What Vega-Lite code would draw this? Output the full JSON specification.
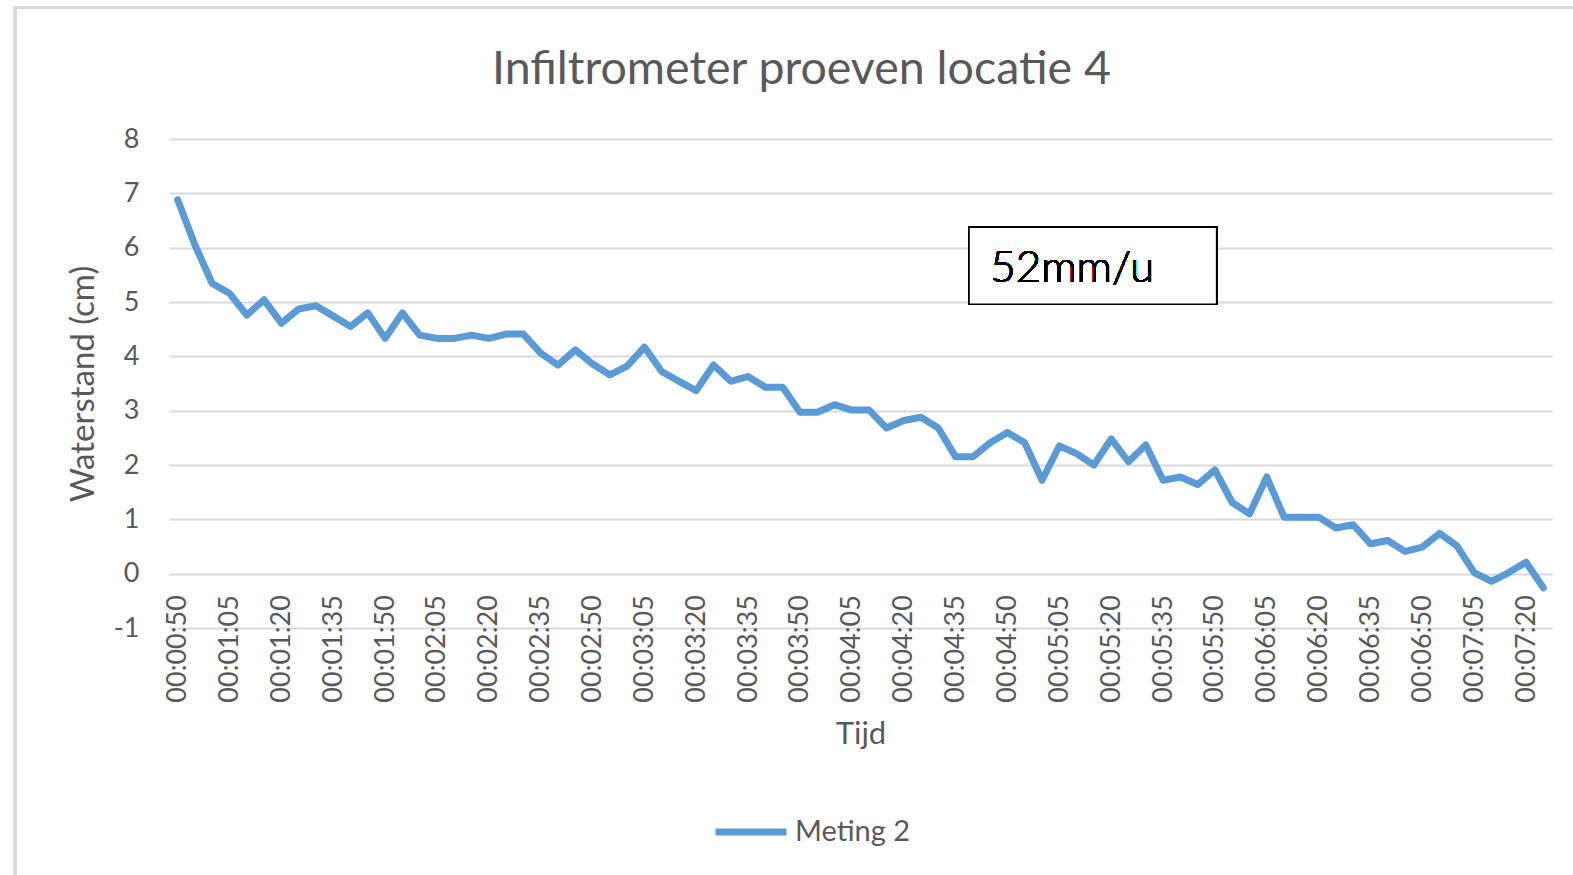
{
  "$schema": "https://vega.github.io/schema/vega-lite/v6.json",
  "autosize": "none",
  "width": 1383,
  "height": 489,
  "padding": {"left": 169, "top": 139, "right": 21, "bottom": 247},
  "background": "white",
  "config": {
    "font": "Lato",
    "view": {"stroke": null},
    "axis": {"labelColor": "#595959", "titleColor": "#595959", "titleFontWeight": "normal", "labelFont": "Lato", "titleFont": "Lato"}
  },
  "title": {
    "text": "Infiltrometer proeven locatie 4",
    "fontSize": 46.5,
    "font": "Lato",
    "fontWeight": "normal",
    "color": "#595959",
    "anchor": "middle",
    "frame": "group",
    "baseline": "alphabetic",
    "dx": -59,
    "dy": 124,
    "offset": 0
  },
  "data": {
    "values": [
      {"seconden": 50, "waterstand": 6.88, "reeks": "Meting 2"},
      {"seconden": 55, "waterstand": 6.05, "reeks": "Meting 2"},
      {"seconden": 60, "waterstand": 5.34, "reeks": "Meting 2"},
      {"seconden": 65, "waterstand": 5.16, "reeks": "Meting 2"},
      {"seconden": 70, "waterstand": 4.76, "reeks": "Meting 2"},
      {"seconden": 75, "waterstand": 5.04, "reeks": "Meting 2"},
      {"seconden": 80, "waterstand": 4.61, "reeks": "Meting 2"},
      {"seconden": 85, "waterstand": 4.87, "reeks": "Meting 2"},
      {"seconden": 90, "waterstand": 4.93, "reeks": "Meting 2"},
      {"seconden": 95, "waterstand": 4.74, "reeks": "Meting 2"},
      {"seconden": 100, "waterstand": 4.55, "reeks": "Meting 2"},
      {"seconden": 105, "waterstand": 4.80, "reeks": "Meting 2"},
      {"seconden": 110, "waterstand": 4.33, "reeks": "Meting 2"},
      {"seconden": 115, "waterstand": 4.80, "reeks": "Meting 2"},
      {"seconden": 120, "waterstand": 4.39, "reeks": "Meting 2"},
      {"seconden": 125, "waterstand": 4.33, "reeks": "Meting 2"},
      {"seconden": 130, "waterstand": 4.33, "reeks": "Meting 2"},
      {"seconden": 135, "waterstand": 4.39, "reeks": "Meting 2"},
      {"seconden": 140, "waterstand": 4.33, "reeks": "Meting 2"},
      {"seconden": 145, "waterstand": 4.41, "reeks": "Meting 2"},
      {"seconden": 150, "waterstand": 4.41, "reeks": "Meting 2"},
      {"seconden": 155, "waterstand": 4.06, "reeks": "Meting 2"},
      {"seconden": 160, "waterstand": 3.84, "reeks": "Meting 2"},
      {"seconden": 165, "waterstand": 4.12, "reeks": "Meting 2"},
      {"seconden": 170, "waterstand": 3.86, "reeks": "Meting 2"},
      {"seconden": 175, "waterstand": 3.66, "reeks": "Meting 2"},
      {"seconden": 180, "waterstand": 3.82, "reeks": "Meting 2"},
      {"seconden": 185, "waterstand": 4.17, "reeks": "Meting 2"},
      {"seconden": 190, "waterstand": 3.72, "reeks": "Meting 2"},
      {"seconden": 195, "waterstand": 3.54, "reeks": "Meting 2"},
      {"seconden": 200, "waterstand": 3.37, "reeks": "Meting 2"},
      {"seconden": 205, "waterstand": 3.84, "reeks": "Meting 2"},
      {"seconden": 210, "waterstand": 3.54, "reeks": "Meting 2"},
      {"seconden": 215, "waterstand": 3.63, "reeks": "Meting 2"},
      {"seconden": 220, "waterstand": 3.43, "reeks": "Meting 2"},
      {"seconden": 225, "waterstand": 3.43, "reeks": "Meting 2"},
      {"seconden": 230, "waterstand": 2.97, "reeks": "Meting 2"},
      {"seconden": 235, "waterstand": 2.97, "reeks": "Meting 2"},
      {"seconden": 240, "waterstand": 3.11, "reeks": "Meting 2"},
      {"seconden": 245, "waterstand": 3.01, "reeks": "Meting 2"},
      {"seconden": 250, "waterstand": 3.01, "reeks": "Meting 2"},
      {"seconden": 255, "waterstand": 2.68, "reeks": "Meting 2"},
      {"seconden": 260, "waterstand": 2.82, "reeks": "Meting 2"},
      {"seconden": 265, "waterstand": 2.88, "reeks": "Meting 2"},
      {"seconden": 270, "waterstand": 2.68, "reeks": "Meting 2"},
      {"seconden": 275, "waterstand": 2.15, "reeks": "Meting 2"},
      {"seconden": 280, "waterstand": 2.15, "reeks": "Meting 2"},
      {"seconden": 285, "waterstand": 2.41, "reeks": "Meting 2"},
      {"seconden": 290, "waterstand": 2.60, "reeks": "Meting 2"},
      {"seconden": 295, "waterstand": 2.41, "reeks": "Meting 2"},
      {"seconden": 300, "waterstand": 1.72, "reeks": "Meting 2"},
      {"seconden": 305, "waterstand": 2.35, "reeks": "Meting 2"},
      {"seconden": 310, "waterstand": 2.21, "reeks": "Meting 2"},
      {"seconden": 315, "waterstand": 2.00, "reeks": "Meting 2"},
      {"seconden": 320, "waterstand": 2.48, "reeks": "Meting 2"},
      {"seconden": 325, "waterstand": 2.06, "reeks": "Meting 2"},
      {"seconden": 330, "waterstand": 2.37, "reeks": "Meting 2"},
      {"seconden": 335, "waterstand": 1.72, "reeks": "Meting 2"},
      {"seconden": 340, "waterstand": 1.78, "reeks": "Meting 2"},
      {"seconden": 345, "waterstand": 1.64, "reeks": "Meting 2"},
      {"seconden": 350, "waterstand": 1.91, "reeks": "Meting 2"},
      {"seconden": 355, "waterstand": 1.31, "reeks": "Meting 2"},
      {"seconden": 360, "waterstand": 1.10, "reeks": "Meting 2"},
      {"seconden": 365, "waterstand": 1.78, "reeks": "Meting 2"},
      {"seconden": 370, "waterstand": 1.04, "reeks": "Meting 2"},
      {"seconden": 375, "waterstand": 1.04, "reeks": "Meting 2"},
      {"seconden": 380, "waterstand": 1.04, "reeks": "Meting 2"},
      {"seconden": 385, "waterstand": 0.84, "reeks": "Meting 2"},
      {"seconden": 390, "waterstand": 0.90, "reeks": "Meting 2"},
      {"seconden": 395, "waterstand": 0.55, "reeks": "Meting 2"},
      {"seconden": 400, "waterstand": 0.61, "reeks": "Meting 2"},
      {"seconden": 405, "waterstand": 0.41, "reeks": "Meting 2"},
      {"seconden": 410, "waterstand": 0.49, "reeks": "Meting 2"},
      {"seconden": 415, "waterstand": 0.74, "reeks": "Meting 2"},
      {"seconden": 420, "waterstand": 0.51, "reeks": "Meting 2"},
      {"seconden": 425, "waterstand": 0.02, "reeks": "Meting 2"},
      {"seconden": 430, "waterstand": -0.14, "reeks": "Meting 2"},
      {"seconden": 435, "waterstand": 0.02, "reeks": "Meting 2"},
      {"seconden": 440, "waterstand": 0.21, "reeks": "Meting 2"},
      {"seconden": 445, "waterstand": -0.26, "reeks": "Meting 2"}
    ]
  },
  "layer": [
    {
      "mark": {"type": "rect", "fillOpacity": 0, "stroke": "#d9d9d9", "strokeWidth": 3},
      "encoding": {
        "x": {"datum": 2.96, "type": "quantitative"},
        "x2": {"datum": 461.4},
        "y": {"datum": 10.42, "type": "quantitative"},
        "y2": {"datum": -6.0}
      }
    },
    {
      "mark": {"type": "line", "strokeWidth": 7, "strokeJoin": "round", "strokeCap": "round"},
      "encoding": {
        "x": {
          "field": "seconden",
          "type": "quantitative",
          "title": "Tijd",
          "scale": {"domain": [47.5, 447.5], "nice": false, "zero": false},
          "axis": {
            "values": [50, 65, 80, 95, 110, 125, 140, 155, 170, 185, 200, 215, 230, 245, 260, 275, 290, 305, 320, 335, 350, 365, 380, 395, 410, 425, 440],
            "labelExpr": "'00:0' + floor(datum.value/60) + ':' + (datum.value % 60 < 10 ? '0' : '') + (datum.value % 60)",
            "labelAngle": -90,
            "labelFontSize": 27,
            "labelOverlap": false,
            "labelFlush": false,
            "labelBound": false,
            "grid": false,
            "domain": false,
            "ticks": false,
            "tickSize": 0,
            "offset": -54.33,
            "labelPadding": 21,
            "titleFontSize": 31,
            "titlePadding": 17
          }
        },
        "y": {
          "field": "waterstand",
          "type": "quantitative",
          "title": "Waterstand (cm)",
          "scale": {"domain": [-1, 8], "nice": false, "zero": false},
          "axis": {
            "values": [-1, 0, 1, 2, 3, 4, 5, 6, 7, 8],
            "labelExpr": "'' + datum.value",
            "labelFontSize": 27,
            "grid": true,
            "gridColor": "#d9d9d9",
            "gridWidth": 2,
            "domain": false,
            "ticks": false,
            "tickSize": 0,
            "labelPadding": 30,
            "titleFontSize": 33,
            "titleX": -86,
            "titleY": 244.5,
            "titleAlign": "center",
            "titleBaseline": "middle",
            "titleAngle": -90
          }
        },
        "color": {
          "field": "reeks",
          "type": "nominal",
          "title": null,
          "scale": {"range": ["#5b9bd5"]},
          "legend": {
            "orient": "none",
            "legendX": 543,
            "legendY": 654,
            "padding": 0,
            "symbolType": "stroke",
            "symbolSize": 5041,
            "symbolStrokeWidth": 7,
            "labelFontSize": 29,
            "labelColor": "#595959",
            "labelOffset": 5,
            "labelFont": "Lato"
          }
        }
      }
    },
    {
      "mark": {"type": "rect", "fill": "white", "stroke": "black", "strokeWidth": 1.5},
      "encoding": {
        "x": {"datum": 278.9, "type": "quantitative"},
        "x2": {"datum": 350.5},
        "y": {"datum": 6.375, "type": "quantitative"},
        "y2": {"datum": 4.957}
      }
    },
    {
      "mark": {"type": "text", "text": "52mm/u", "fontSize": 44, "font": "Lato", "fontWeight": 300, "color": "black", "align": "left", "baseline": "alphabetic"},
      "encoding": {
        "x": {"datum": 285.0, "type": "quantitative"},
        "y": {"datum": 5.374, "type": "quantitative"}
      }
    }
  ]
}
